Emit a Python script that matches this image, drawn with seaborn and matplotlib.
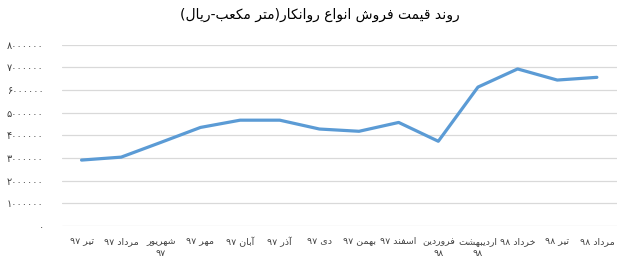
import matplotlib
matplotlib.use("Agg")
import matplotlib.pyplot as plt
import seaborn as sns
import pandas as pd

# ---------------- data ----------------
title_text = "روند قیمت فروش انواع روانکار(متر مکعب-ریال)"
months = ["تیر ۹۷", "مرداد ۹۷", "شهریور\n۹۷", "مهر ۹۷", "آبان ۹۷", "آذر ۹۷",
          "دی ۹۷", "بهمن ۹۷", "اسفند ۹۷", "فروردین\n۹۸", "اردیبهشت\n۹۸",
          "خرداد ۹۸", "تیر ۹۸", "مرداد ۹۸"]
prices = [2910000, 3040000, 3690000, 4350000, 4670000, 4670000, 4280000,
          4180000, 4570000, 3740000, 6130000, 6930000, 6440000, 6560000]
y_ticks = [0, 1000000, 2000000, 3000000, 4000000, 5000000, 6000000, 7000000, 8000000]

# ---------------- minimal Persian shaping + bidi ----------------
FORMS = {  # isolated, final, initial, medial
    "ا": ("\uFE8D", "\uFE8E", None, None),
    "آ": ("\uFE81", "\uFE82", None, None),
    "ب": ("\uFE8F", "\uFE90", "\uFE91", "\uFE92"),
    "ت": ("\uFE95", "\uFE96", "\uFE97", "\uFE98"),
    "خ": ("\uFEA5", "\uFEA6", "\uFEA7", "\uFEA8"),
    "د": ("\uFEA9", "\uFEAA", None, None),
    "ذ": ("\uFEAB", "\uFEAC", None, None),
    "ر": ("\uFEAD", "\uFEAE", None, None),
    "ز": ("\uFEAF", "\uFEB0", None, None),
    "س": ("\uFEB1", "\uFEB2", "\uFEB3", "\uFEB4"),
    "ش": ("\uFEB5", "\uFEB6", "\uFEB7", "\uFEB8"),
    "ع": ("\uFEC9", "\uFECA", "\uFECB", "\uFECC"),
    "ف": ("\uFED1", "\uFED2", "\uFED3", "\uFED4"),
    "ق": ("\uFED5", "\uFED6", "\uFED7", "\uFED8"),
    "ل": ("\uFEDD", "\uFEDE", "\uFEDF", "\uFEE0"),
    "م": ("\uFEE1", "\uFEE2", "\uFEE3", "\uFEE4"),
    "ن": ("\uFEE5", "\uFEE6", "\uFEE7", "\uFEE8"),
    "ه": ("\uFEE9", "\uFEEA", "\uFEEB", "\uFEEC"),
    "و": ("\uFEED", "\uFEEE", None, None),
    "ی": ("\uFBFC", "\uFBFD", "\uFBFE", "\uFBFF"),
    "ک": ("\uFB8E", "\uFB8F", "\uFB90", "\uFB91"),
}


def dual(c):
    return c in FORMS and FORMS[c][2] is not None


def shape(s):
    out = []
    for i, c in enumerate(s):
        if c not in FORMS:
            out.append(c)
            continue
        prev = s[i - 1] if i > 0 else ""
        nxt = s[i + 1] if i + 1 < len(s) else ""
        jp = dual(prev)
        jn = dual(c) and nxt in FORMS
        f = FORMS[c]
        if jp and jn:
            out.append(f[3])
        elif jp:
            out.append(f[1])
        elif jn:
            out.append(f[2])
        else:
            out.append(f[0])
    return "".join(out)


DIG = set("0123456789۰۱۲۳۴۵۶۷۸۹")
MIRROR = {"(": ")", ")": "("}


def visual_line(s):
    s = shape(s)
    runs = []
    for c in s:
        isd = c in DIG
        if runs and runs[-1][0] == isd:
            runs[-1][1].append(c)
        else:
            runs.append([isd, [c]])
    parts = []
    for isd, chars in reversed(runs):
        if isd:
            parts.append("".join(chars))
        else:
            parts.append("".join(MIRROR.get(c, c) for c in reversed(chars)))
    return "".join(parts)


def visual(s):
    return "\n".join(visual_line(line) for line in s.split("\n"))


def fa_digits(n):
    return str(n).translate(str.maketrans("0123456789", "۰۱۲۳۴۵۶۷۸۹"))


# ---------------- plot ----------------
sns.set_theme(style="white")
plt.rcParams["font.family"] = ["DejaVu Sans"]

df = pd.DataFrame({"month": [visual(m) for m in months], "price": prices})

fig = plt.figure(figsize=(6.39, 2.75), dpi=100)
ax = fig.add_axes([0.0966, 0.178, 0.8685, 0.6595])

sns.lineplot(data=df, x="month", y="price", sort=False, ax=ax,
             color="#5B9BD5", linewidth=2.3, solid_capstyle="round")

ax.set_ylim(0, 8000000)
ax.set_xlim(-0.5, len(months) - 0.5)
ax.set_yticks(y_ticks)
ax.set_yticklabels([fa_digits(v) for v in y_ticks])
ax.yaxis.grid(True, color="#d9d9d9", linewidth=0.9)
ax.xaxis.grid(False)
for sp in ax.spines.values():
    sp.set_visible(False)
ax.set_xlabel("")
ax.set_ylabel("")
ax.tick_params(axis="y", length=0, pad=13, labelsize=7, labelcolor="#404040")
ax.tick_params(axis="x", length=0, pad=8, labelsize=6.8, labelcolor="#404040")
for lbl in ax.get_xticklabels():
    lbl.set_linespacing(1.4)

fig.text(0.5, 0.945, visual(title_text), ha="center", va="center",
         fontsize=10, color="#000000")

fig.savefig("out.png", dpi=100)
